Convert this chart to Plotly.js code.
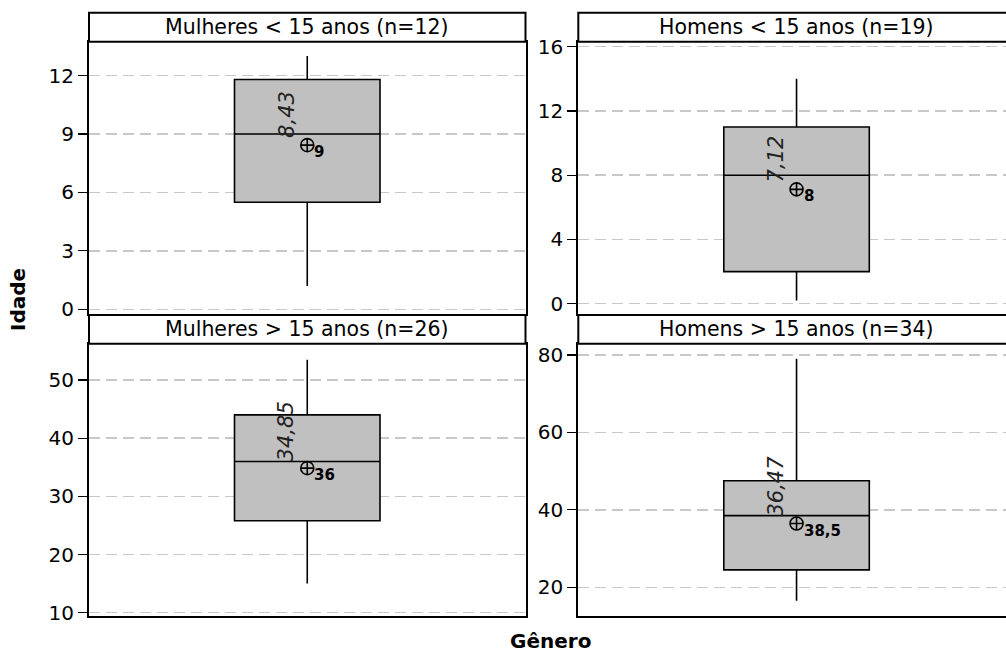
<!DOCTYPE html>
<html>
<head>
<meta charset="utf-8">
<script src="https://cdn.plot.ly/plotly-3.0.1.min.js"></script>
<style>html,body{margin:0;padding:0;background:#fff;overflow:hidden;}#chart{width:1016px;height:653px;}</style>
</head>
<body>
<div id="chart"></div>
<script>
// ---- data ----
const panelTitles = ['Mulheres < 15 anos (n=12)', 'Homens < 15 anos (n=19)', 'Mulheres > 15 anos (n=26)', 'Homens > 15 anos (n=34)'];
const q1Values = [5.5, 2, 25.8, 24.5];
const medianValues = [9, 8, 36, 38.5];
const q3Values = [11.8, 11, 44, 47.5];
const lowerWhiskers = [1.2, 0.2, 15, 16.5];
const upperWhiskers = [13, 14, 53.5, 79];
const meanValues = [8.43, 7.12, 34.85, 36.47];
const yRanges = [[-0.24, 13.74], [-0.64, 16.31], [9.43, 56.24], [12.59, 82.9]];
const yTickSteps = [3, 4, 10, 20];
const xTitle = 'Gênero';
const yTitle = 'Idade';

// ---- layout geometry (canvas slightly wider than the window; right panel runs past the edge) ----
const FONT = '"DejaVu Sans", sans-serif';
const W = 1016, H = 653;
const colDomains = [[89 / W, 525.5 / W], [578.3 / W, 1014.8 / W]];
const rowDomains = [[1 - 314 / H, 1 - 41.7 / H], [1 - 616 / H, 1 - 343.7 / H]];
const headerRanges = [[1 - 41.7 / H, 1 - 12.7 / H], [1 - 343.7 / H, 1 - 315 / H]];
const fmt = v => String(v).replace('.', ',');

const traces = [];
const shapes = [];
const annotations = [];
const layout = {
  width: W, height: H,
  margin: {l: 0, r: 0, t: 0, b: 0},
  paper_bgcolor: '#fff', plot_bgcolor: '#fff',
  showlegend: false,
  font: {family: FONT, size: 20, color: '#000'}
};

panelTitles.forEach((title, i) => {
  const n = i + 1;
  const suf = n === 1 ? '' : String(n);
  const col = i % 2, row = Math.floor(i / 2);
  const xa = 'x' + suf, ya = 'y' + suf;

  traces.push({
    type: 'box', x: [0], xaxis: xa, yaxis: ya,
    q1: [q1Values[i]], median: [medianValues[i]], q3: [q3Values[i]],
    lowerfence: [lowerWhiskers[i]], upperfence: [upperWhiskers[i]],
    width: 1, whiskerwidth: 0,
    fillcolor: '#c0c0c0',
    line: {color: '#000', width: 1.6},
    hoverinfo: 'skip'
  });
  traces.push({
    type: 'scatter', mode: 'markers', x: [0], y: [meanValues[i]], xaxis: xa, yaxis: ya,
    marker: {symbol: 'circle-cross-open', size: 13, color: '#000', line: {width: 1.6, color: '#000'}},
    hoverinfo: 'skip'
  });

  layout['xaxis' + suf] = {
    domain: colDomains[col], anchor: ya, range: [-1.5, 1.5],
    showline: true, mirror: true, linecolor: '#000', linewidth: 2,
    showgrid: false, zeroline: false, showticklabels: false, ticks: '', fixedrange: true
  };
  layout['yaxis' + suf] = {
    domain: rowDomains[row], anchor: xa, range: yRanges[i],
    tick0: 0, dtick: yTickSteps[i],
    showline: true, mirror: true, linecolor: '#000', linewidth: 2,
    ticks: 'outside', ticklen: 9, tickwidth: 1.2, tickcolor: '#000',
    tickfont: {family: FONT, size: 20, color: '#000'},
    showgrid: true, gridcolor: '#c8c8c8', gridwidth: 1.5, griddash: '11px,6px',
    zeroline: false, fixedrange: true
  };

  // header strip
  shapes.push({
    type: 'rect', xref: 'paper', yref: 'paper',
    x0: colDomains[col][0], x1: colDomains[col][1],
    y0: headerRanges[row][0], y1: headerRanges[row][1],
    fillcolor: '#fff', line: {color: '#000', width: 2}
  });
  annotations.push({
    xref: 'paper', yref: 'paper',
    x: (colDomains[col][0] + colDomains[col][1]) / 2,
    y: (headerRanges[row][0] + headerRanges[row][1]) / 2,
    text: title, showarrow: false, xanchor: 'center', yanchor: 'middle',
    font: {family: FONT, size: 20.5, color: '#000'}
  });
  // mean label (rotated, italic)
  annotations.push({
    xref: xa, yref: ya, x: 0, y: meanValues[i],
    text: fmt(meanValues[i]), textangle: -90,
    showarrow: false, xanchor: 'right', yanchor: 'bottom', xshift: -7, yshift: 5,
    font: {family: FONT, size: 21, color: '#222', style: 'italic'}
  });
  // median label (bold)
  annotations.push({
    xref: xa, yref: ya, x: 0, y: meanValues[i],
    text: '<b>' + fmt(medianValues[i]) + '</b>',
    showarrow: false, xanchor: 'left', yanchor: 'middle', xshift: 5, yshift: -7,
    font: {family: FONT, size: 15, color: '#000'}
  });
});

annotations.push({
  xref: 'paper', yref: 'paper', x: 18 / W, y: 1 - 300 / H,
  text: '<b>' + yTitle + '</b>', textangle: -90, showarrow: false,
  xanchor: 'center', yanchor: 'middle', font: {family: FONT, size: 20, color: '#000'}
});
annotations.push({
  xref: 'paper', yref: 'paper', x: 550 / W, y: 1 - 641 / H,
  text: '<b>' + xTitle + '</b>', showarrow: false,
  xanchor: 'center', yanchor: 'middle', font: {family: FONT, size: 20, color: '#000'}
});

layout.shapes = shapes;
layout.annotations = annotations;

Plotly.newPlot('chart', traces, layout, {displayModeBar: false, staticPlot: true});
</script>
</body>
</html>
